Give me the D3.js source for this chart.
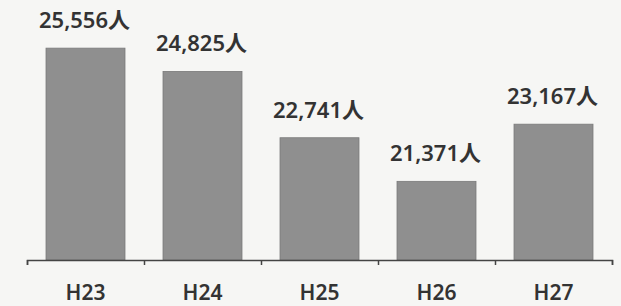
<!DOCTYPE html>
<html>
<head>
<meta charset="utf-8">
<script src="https://cdn.jsdelivr.net/npm/d3@7"></script>
<style>
  body { margin: 0; background: #f6f6f4; }
  svg { display: block; }
</style>
</head>
<body>
<script>
  // values
  let years = ["H23", "H24", "H25", "H26", "H27"];
  let people = [25556, 24825, 22741, 21371, 23167];

  let width = 621;
  let height = 306;

  let svg = d3.select('body').append('svg')
      .attr('width', width)
      .attr('height', height)
      .style('background', '#f6f6f4');

  // band scale for the bars
  let xScale = d3.scaleBand()
      .domain(years)
      .range([27, 612])
      .paddingInner(0.325)
      .paddingOuter(0.1625);

  // y axis isn't drawn, the chart starts near 18,900
  let yScale = d3.scaleLinear()
      .domain([18900, 26000])
      .range([260, 34]);

  // bars
  svg.selectAll('.bar')
      .data(people)
      .enter()
      .append('rect')
        .attr('class', 'bar')
        .attr('x', (d, i) => xScale(years[i]))
        .attr('y', d => yScale(d))
        .attr('width', xScale.bandwidth())
        .attr('height', d => yScale.range()[0] - yScale(d))
        .attr('fill', '#8f8f8f')
        .attr('stroke', '#7a7a7a')
        .attr('stroke-width', 0.8);

  // value labels
  svg.selectAll('.lbl')
      .data(people)
      .enter()
      .append('text')
        .attr('class', 'lbl')
        .attr('x', (d, i) => xScale(years[i]) + xScale.bandwidth() / 2 - 1)
        .attr('y', d => yScale(d) - 20)
        .attr('text-anchor', 'middle')
        .style('font-family', '"Noto Sans", "Noto Sans CJK JP", sans-serif')
        .style('font-size', '22px')
        .style('font-weight', 600)
        .style('fill', '#333')
        .text(d => d3.format(',')(d) + '人');

  // axis with ticks on band boundaries
  let edges = d3.scaleLinear()
      .domain([0, years.length])
      .range(xScale.range());

  svg.append('g')
      .attr('transform', 'translate(0,260)')
      .call(d3.axisBottom(edges).ticks(years.length).tickFormat('').tickSize(5).tickSizeOuter(5))
      .call(g => g.selectAll('path, line').attr('stroke', '#444').attr('stroke-width', 1.5));

  // category labels
  svg.append('g')
      .attr('transform', 'translate(0,260)')
      .call(d3.axisBottom(xScale).tickSize(0).tickPadding(25))
      .call(g => g.select('.domain').remove())
      .call(g => g.selectAll('text')
        .style('font-family', '"Noto Sans", sans-serif')
        .style('font-size', '21px')
        .style('font-weight', 600)
        .style('fill', '#333'));
</script>
</body>
</html>
